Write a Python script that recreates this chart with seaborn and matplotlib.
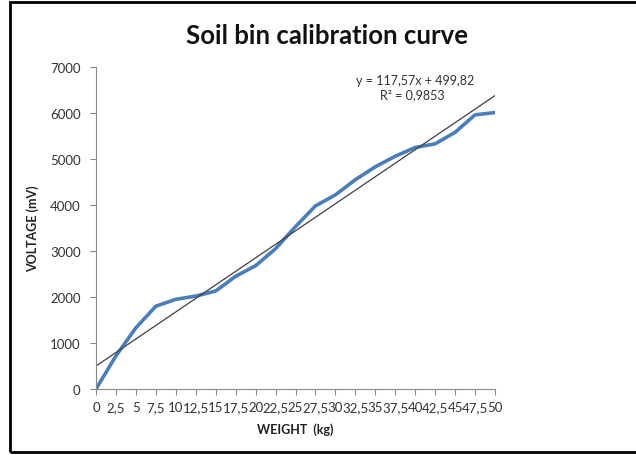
import numpy as np
import pandas as pd
import matplotlib.pyplot as plt
import seaborn as sns
from matplotlib.patches import Rectangle

# --- Data ---
weight_kg = [0, 2.5, 5, 7.5, 10, 12.5, 15, 17.5, 20, 22.5, 25,
             27.5, 30, 32.5, 35, 37.5, 40, 42.5, 45, 47.5, 50]
voltage_mv = [0, 720, 1330, 1800, 1950, 2020, 2130, 2450, 2680, 3050, 3530,
              3980, 4220, 4550, 4830, 5060, 5250, 5330, 5580, 5960, 6010]
y_ticks = [0, 1000, 2000, 3000, 4000, 5000, 6000, 7000]
x_tick_labels = ["0", "2,5", "5", "7,5", "10", "12,5", "15", "17,5", "20", "22,5", "25",
                 "27,5", "30", "32,5", "35", "37,5", "40", "42,5", "45", "47,5", "50"]
slope = 117.57
intercept = 499.82
r_squared = 0.9853

df = pd.DataFrame({"weight": weight_kg, "voltage": voltage_mv})

sns.set_style("white")
plt.rcParams['font.family'] = ['Lato', 'DejaVu Sans']

fig = plt.figure(figsize=(6.36, 4.56), dpi=100)
ax = fig.add_axes([96 / 636, 1 - 390 / 456, 399 / 636, 322 / 456])

# --- Calibration curve ---
sns.lineplot(data=df, x="weight", y="voltage", color="#4a7ebb", linewidth=2.6, ax=ax)

# --- Linear trendline ---
trend_x = np.array([weight_kg[0], weight_kg[-1]])
ax.plot(trend_x, slope * trend_x + intercept, color="#404040", linewidth=0.9)

ax.text(40.0, 6720, f"y = {slope:.2f}x + {intercept:.2f}".replace(".", ","),
        ha="center", va="center", fontsize=9, color="#333333")
ax.text(39.6, 6420, "R\u00b2 = " + f"{r_squared:.4f}".replace(".", ","),
        ha="center", va="center", fontsize=9, color="#333333")

# --- Axes styling ---
ax.set_xlim(0, 50)
ax.set_ylim(0, 7000)
ax.set_xticks(weight_kg)
ax.set_xticklabels(x_tick_labels, fontsize=9.5, color="#333333")
ax.set_yticks(y_ticks)
ax.set_yticklabels([str(t) for t in y_ticks], fontsize=9.5, color="#333333")
ax.tick_params(axis="y", direction="out", length=4, width=0.8, color="#888888",
               left=True, pad=7)
ax.tick_params(axis="x", direction="out", length=4, width=0.8, color="#888888",
               bottom=True, pad=5)
for side in ["top", "right"]:
    ax.spines[side].set_visible(False)
for side in ["left", "bottom"]:
    ax.spines[side].set_color("#888888")
    ax.spines[side].set_linewidth(0.8)

ax.set_xlabel("WEIGHT  (kg)", fontsize=9, fontweight="bold", color="#222222", labelpad=6)
ax.set_ylabel("VOLTAGE (mV)", fontsize=9, fontweight="bold", color="#222222", labelpad=8)

fig.text(327 / 636, 1 - 36 / 456, "Soil bin calibration curve", ha="center", va="center",
         fontsize=18.5, fontweight="bold", color="#111111")

# --- Outer frame ---
fig.patches.append(Rectangle((10 / 636, 3 / 456), 640 / 636, 450 / 456, transform=fig.transFigure,
                             fill=False, edgecolor="black", linewidth=2))

plt.savefig("out.png", dpi=100)
